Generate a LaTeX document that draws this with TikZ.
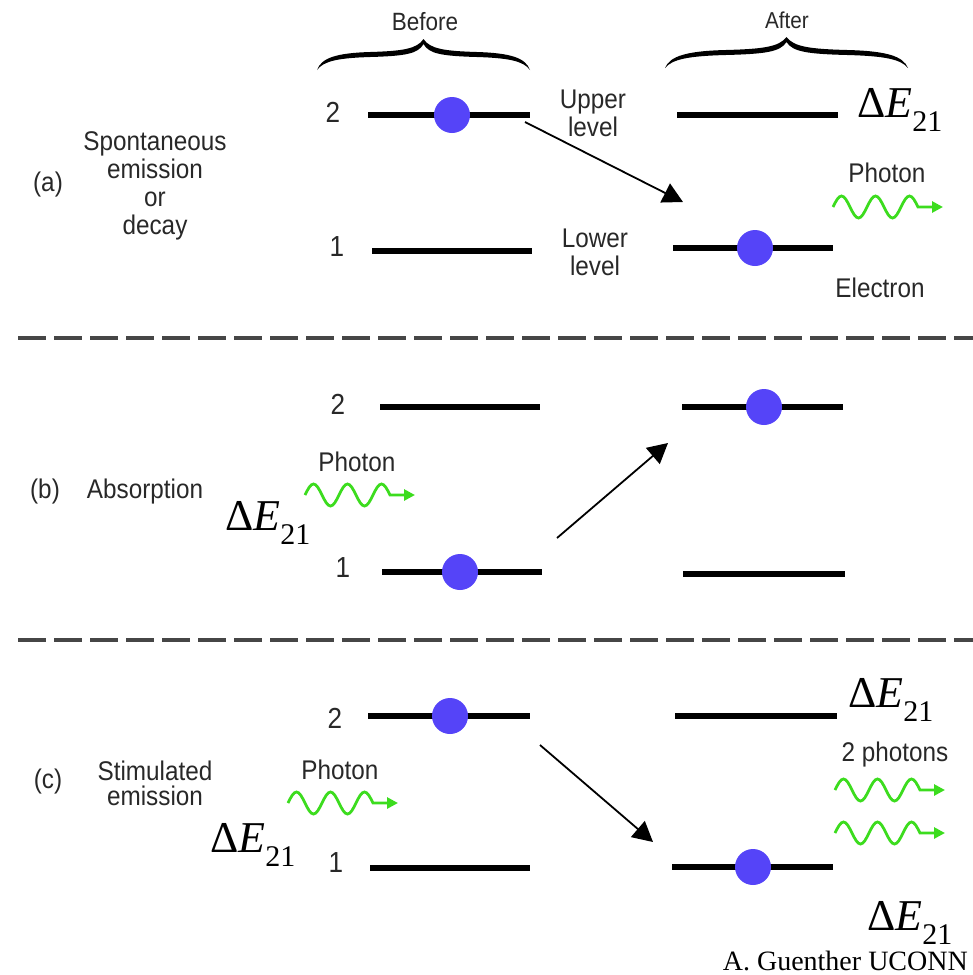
\documentclass[tikz,border=0pt]{standalone}
\usepackage{fontspec}
\setmainfont[FakeStretch=0.9]{Liberation Sans}
\newfontfamily\serifff{Liberation Serif}
\usetikzlibrary{arrows.meta}
\definecolor{eblue}{RGB}{85,68,248}
\definecolor{pgreen}{RGB}{60,220,30}
\definecolor{txt}{RGB}{40,40,40}
\definecolor{sepgray}{RGB}{70,70,70}
\newcommand\dEtext{{\serifff\fontsize{44}{44}\selectfont Δ\textit{E}\raisebox{-14pt}{\fontsize{30}{30}\selectfont 21}}}
\tikzset{
  level/.style={line width=5.5pt, black},
  elec/.style={circle, fill=eblue, minimum size=36pt, inner sep=0pt},
  lab/.style={text=txt, font=\fontsize{27}{28}\selectfont, align=center, inner sep=0pt},
  num/.style={text=txt, font=\fontsize{29}{29}\selectfont, inner sep=0pt},
  trans/.style={line width=1.8pt, -{Triangle[length=20pt,width=21pt]}},
  wave/.style={pgreen, line width=2.8pt, -{Triangle[length=11pt,width=11pt]}},
  sepline/.style={sepgray, line width=3.5pt, dash pattern=on 28pt off 8pt},
  dE/.style={anchor=base west, inner sep=0pt},
  photon/.pic={\draw[wave] (0,0) sin (8.5,-11) cos (17,0) sin (25.5,11) cos (34,0) sin (42.5,-11) cos (51,0) sin (59.5,11) cos (68,0) sin (76.5,-11) cos (85,0) -- (110,0);},
  curly/.pic={\fill[black] (-100,0) .. controls (-96,-12) and (-82,-17) .. (-50,-18) .. controls (-20,-19) and (-6,-21) .. (0,-31) .. controls (6,-21) and (20,-19) .. (50,-18) .. controls (82,-17) and (96,-12) .. (100,0) .. controls (94,-9) and (80,-12) .. (50,-13) .. controls (18,-14) and (5,-16) .. (0,-26) .. controls (-5,-16) and (-18,-14) .. (-50,-13) .. controls (-80,-12) and (-94,-9) .. (-100,0) -- cycle;}
}
\begin{document}
\begin{tikzpicture}[x=1pt,y=-1pt]
\path[use as bounding box] (0,0) rectangle (973,975);

% braces and headers
\pic[xscale=1.065] (bb) at (423.5,70) {curly};
\pic[xscale=1.215] (ab) at (786.5,68) {curly};
\node[lab, font=\fontsize{25}{25}\selectfont] (before) at (425,22) {Before};
\node[lab, font=\fontsize{23}{24}\selectfont] (after) at (787,20) {After};

% ---------- (a) ----------
\node[lab] (alab) at (48,185) {(a)};
\node[lab] (adesc) at (155,186) {Spontaneous\\emission\\or\\decay};
\node[num] (a2n) at (333,112) {2};
\node[num] (a1n) at (337,247) {1};
\draw[level] (368,115) -- (530,115);
\draw[level] (372,251) -- (532,251);
\draw[level] (677,115) -- (838,115);
\draw[level] (673,248) -- (833,248);
\node[elec] (ae1) at (452,115) {};
\node[elec] (ae2) at (755,248) {};
\node[lab] (upper) at (593,113) {Upper\\level};
\node[lab] (lower) at (595,252) {Lower\\level};
\node[dE] (adE) at (857,117) {\dEtext};
\node[lab] (aph) at (887,173) {Photon};
\pic (aw) at (833,207) {photon};
\node[lab] (aelec) at (880,288) {Electron};
\coordinate (as) at (525,122);
\coordinate (ae) at (683,202);
\draw[trans] (as) -- (ae);

\draw[sepline] (18,338) -- (973,338);

% ---------- (b) ----------
\node[lab] (blab) at (45,492) {(b)};
\node[lab] (bdesc) at (145,492) {Absorption};
\node[num] (b2n) at (338,404) {2};
\node[num] (b1n) at (343,568) {1};
\draw[level] (380,407) -- (540,407);
\draw[level] (382,572) -- (542,572);
\draw[level] (682,407) -- (843,407);
\draw[level] (683,574) -- (845,574);
\node[elec] (be1) at (460,572) {};
\node[elec] (be2) at (764,407) {};
\node[lab] (bph) at (357,462) {Photon};
\pic (bw) at (305,495) {photon};
\node[dE] (bdE) at (225,530) {\dEtext};
\coordinate (bs) at (557,538);
\coordinate (be) at (668,443);
\draw[trans] (bs) -- (be);

\draw[sepline] (18,640) -- (973,640);

% ---------- (c) ----------
\node[lab] (clab) at (48,782) {(c)};
\node[lab, font=\fontsize{27}{25}\selectfont] (cdesc) at (155,783) {Stimulated\\emission};
\node[num] (c2n) at (335,718) {2};
\node[num] (c1n) at (336,863) {1};
\draw[level] (368,716) -- (530,716);
\draw[level] (370,868) -- (530,868);
\draw[level] (675,716) -- (837,716);
\draw[level] (672,867) -- (833,867);
\node[elec] (ce1) at (450,716) {};
\node[elec] (ce2) at (753,867) {};
\node[lab] (cph) at (340,770) {Photon};
\pic (cw) at (288,803) {photon};
\node[dE] (cdE) at (210,852) {\dEtext};
\node[dE] (cdE2) at (848,707) {\dEtext};
\node[lab] (cph2) at (895,755) {2 photons};
\pic (cw2) at (835,790) {photon};
\pic (cw3) at (835,833) {photon};
\node[dE] (cdE3) at (867,930) {\dEtext};
\coordinate (cs) at (540,745);
\coordinate (ce) at (653,842);
\draw[trans] (cs) -- (ce);

\node[anchor=base east, inner sep=0pt, font=\serifff\fontsize{28}{28}\selectfont] (credit) at (968,970) {A. Guenther UCONN};
\end{tikzpicture}
\end{document}
